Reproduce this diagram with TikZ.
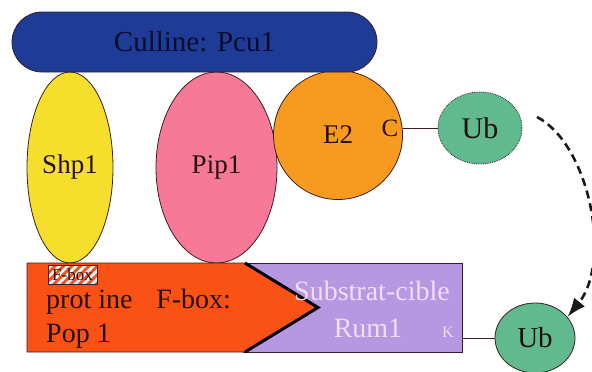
\documentclass[tikz,border=0pt]{standalone}
\usepackage{fontspec}
\setmainfont{Liberation Serif}
\newfontfamily\tnr{Liberation Serif}
\usetikzlibrary{shapes.geometric,shapes.misc,patterns.meta,arrows.meta}
\definecolor{navy}{RGB}{30,60,150}
\definecolor{navytext}{RGB}{10,12,45}
\definecolor{yel}{RGB}{246,222,45}
\definecolor{pinkp}{RGB}{246,122,152}
\definecolor{orng}{RGB}{248,154,32}
\definecolor{ubgreen}{RGB}{96,186,142}
\definecolor{redor}{RGB}{250,82,20}
\definecolor{lilac}{RGB}{182,152,226}
\definecolor{paletext}{RGB}{246,218,242}
\definecolor{outl}{RGB}{60,30,35}
\definecolor{ink}{RGB}{35,15,18}
\begin{document}
\begin{tikzpicture}[x=1pt,y=-1pt,
  prot/.style={draw=outl, line width=0.8pt, inner sep=0pt, text=ink, font=\tnr\fontsize{27}{30}\selectfont},
  big/.style={font=\tnr\fontsize{28}{32}\selectfont, text=ink, inner sep=0pt},
  connector/.style={draw=outl, line width=1pt}]
\useasboundingbox (0,0) rectangle (592,372);
% ellipses
\node[prot, ellipse, fill=yel, minimum width=86pt, minimum height=191pt] (shp) at (70,167.5) {Shp1};
\node[prot, ellipse, fill=pinkp, minimum width=121pt, minimum height=191pt] (pip) at (216.5,167.5) {Pip1};
\node[prot, circle, fill=orng, minimum size=129pt] (e2) at (338,135) {E2};
\node[big, font=\tnr\fontsize{25}{28}\selectfont] (c) at (390,128) {C};
% culline
\node[prot, rounded rectangle, fill=navy, text=navytext, minimum width=365pt, minimum height=60pt, font=\tnr\fontsize{29}{32}\selectfont] (cul) at (194.5,42) {Culline: Pcu1};
% Ub top
\node[prot, ellipse, fill=ubgreen, densely dotted, minimum width=84pt, minimum height=72pt, font=\tnr\fontsize{30}{32}\selectfont] (ubtop) at (480,128) {Ub};
\draw[connector] (ubtop.west -| e2.east) -- (ubtop.west);
% substrate
\node[draw=outl, line width=0.8pt, fill=lilac, minimum width=219pt, minimum height=89pt, anchor=north west, inner sep=0pt] (sub) at (243,263) {};
\path[fill=redor, draw=outl, line width=0.8pt] (27,263) -- (245,263) -- (318,307.5) -- (245,352) -- (27,352) -- cycle;
\draw[line width=3pt, black, line join=miter] (245,263) -- (318,307.5) -- (245,352);
\node[big, text=paletext, anchor=base] (subt) at (372,300) {Substrat-cible};
\node[big, text=paletext, anchor=base] (rum) at (368,337) {Rum1};
\node[big, text=paletext, font=\tnr\fontsize{16}{18}\selectfont, anchor=base] (k) at (448,337) {K};
% F-box protein
\node[draw=outl, line width=0.6pt, preaction={fill=white}, pattern={Lines[angle=45,distance=6pt,line width=3pt]}, pattern color=redor, minimum width=49pt, minimum height=19pt, inner sep=0pt, text=ink, font=\tnr\fontsize{17}{18}\selectfont] (fbox) at (72.5,274.5) {F-box};
\node[big, anchor=base west] (protl) at (46,308) {prot ine\hspace{0.85em}F-box:};
\node[big, anchor=base west] (pop) at (46,342) {Pop 1};
% Ub bottom
\node[prot, ellipse, fill=ubgreen, minimum width=80pt, minimum height=70pt, font=\tnr\fontsize{29}{32}\selectfont] (ubbot) at (535,338) {Ub};
\draw[connector] (ubbot.west -| sub.east) -- (ubbot.west);
% dashed arrow
\coordinate (arcstart) at (537,117);
\draw[line width=2.6pt, dash pattern=on 8pt off 5pt, draw=black!90, -{Latex[length=19pt,width=14pt]}] (arcstart) .. controls (590,145) and (612,262) .. (ubbot.33);
\end{tikzpicture}
\end{document}
